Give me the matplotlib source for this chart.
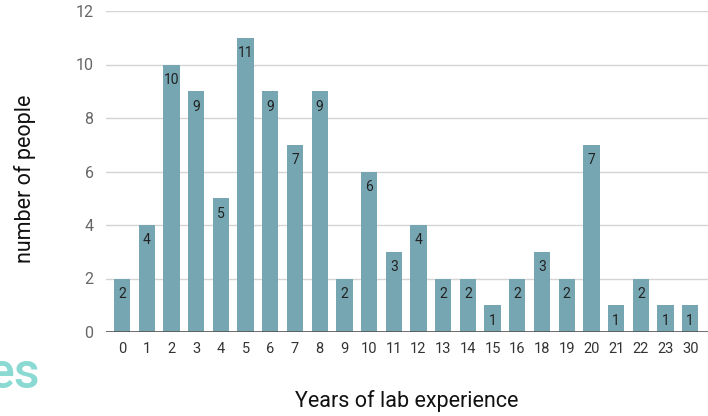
import numpy as np
import matplotlib.pyplot as plt

years = ['0', '1', '2', '3', '4', '5', '6', '7', '8', '9', '10', '11', '12',
         '13', '14', '15', '16', '18', '19', '20', '21', '22', '23', '30']
people = [2, 4, 10, 9, 5, 11, 9, 7, 9, 2, 6, 3, 4, 2, 2, 1, 2, 3, 2, 7, 1, 2, 1, 1]
y_ticks = [0, 2, 4, 6, 8, 10, 12]

plt.rcParams['font.family'] = ['Roboto', 'DejaVu Sans']

fig = plt.figure(figsize=(7.08, 4.16), dpi=100)
ax = fig.add_axes([106 / 708, 1 - 332 / 416, 1 - 106 / 708, (332 - 11) / 416])

x = np.arange(len(years))
bars = ax.bar(x, people, width=0.66, color='#76a6b1', zorder=2)
for xi, v in zip(x, people):
    ax.annotate(str(v), (xi, v), xytext=(0, -11), textcoords='offset points',
                ha='center', va='center', fontsize=10, color='#222222', zorder=3)

ax.set_xlim(-0.65, 23.72)
ax.set_ylim(0, 12)
ax.set_yticks(y_ticks)
ax.set_xticks(x)
ax.set_xticklabels(years)
ax.grid(axis='y', color='#d4d4d4', linewidth=1, zorder=0)
ax.axhline(0, color='#555555', linewidth=1.2, zorder=3)
for s in ax.spines.values():
    s.set_visible(False)
ax.tick_params(axis='x', length=0, labelsize=10.5, labelcolor='#333333', pad=7)
ax.tick_params(axis='y', length=0, labelsize=11.5, labelcolor='#666666', pad=9)

fig.text(25 / 708, 1 - 179 / 416, 'number of people', rotation=90, ha='center', va='center',
         fontsize=15.5, color='#111111')
fig.text(407 / 708, 1 - 401 / 416, 'Years of lab experience', ha='center', va='center',
         fontsize=15.5, color='#111111')
fig.text(-12 / 708, 1 - 374 / 416, 'es', ha='left', va='center', fontsize=36,
         fontweight='medium', color='#8ad9d3')

fig.savefig('out.png', dpi=100)
